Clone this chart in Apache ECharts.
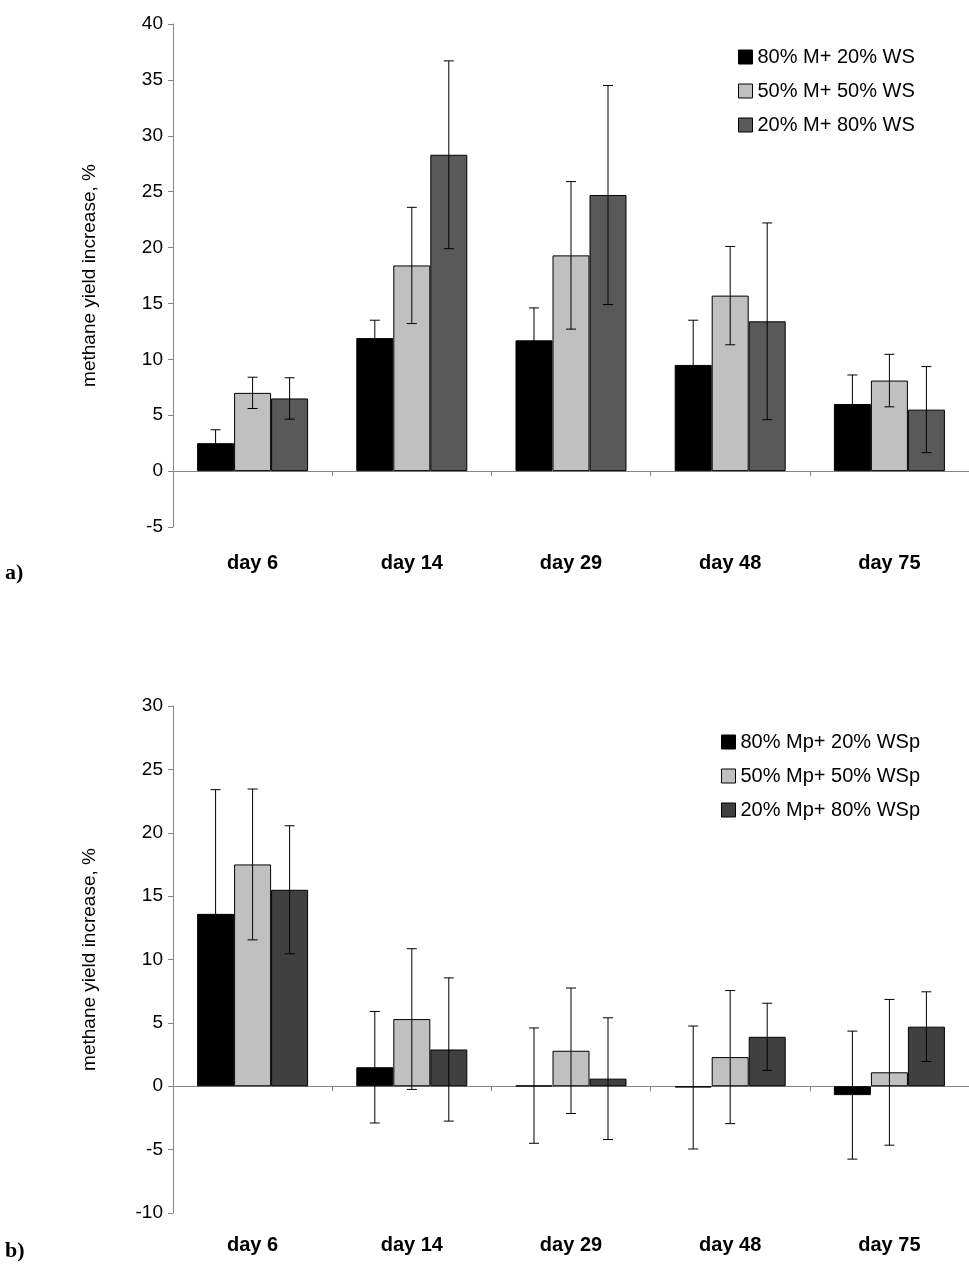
<!DOCTYPE html>
<html>
<head>
<meta charset="UTF-8">
<script src="https://cdn.jsdelivr.net/npm/echarts@6/dist/echarts.min.js"></script>
<style>html,body{margin:0;padding:0;background:#fff}</style>
</head>
<body>
<div id="main" style="width:969px;height:1269px"></div>
<script>
var days = ['day 6', 'day 14', 'day 29', 'day 48', 'day 75'];

// chart a
var namesA = ['80% M+ 20% WS', '50% M+ 50% WS', '20% M+ 80% WS'];
var a80 = [2.5, 11.9, 11.7, 9.5, 6.0];
var a50 = [7.0, 18.4, 19.3, 15.7, 8.1];
var a20 = [6.5, 28.3, 24.7, 13.4, 5.5];
var a80err = [1.2, 1.6, 2.9, 4.0, 2.6];
var a50err = [1.4, 5.2, 6.6, 4.4, 2.35];
var a20err = [1.85, 8.4, 9.8, 8.8, 3.85];

// chart b
var namesB = ['80% Mp+ 20% WSp', '50% Mp+ 50% WSp', '20% Mp+ 80% WSp'];
var b80 = [13.6, 1.5, 0.05, -0.1, -0.7];
var b50 = [17.5, 5.3, 2.8, 2.3, 1.1];
var b20 = [15.5, 2.9, 0.6, 3.9, 4.7];
var b80err = [9.8, 4.4, 4.55, 4.85, 5.05];
var b50err = [5.95, 5.55, 4.95, 5.25, 5.75];
var b20err = [5.05, 5.65, 4.8, 2.65, 2.75];

var font = 'Liberation Sans';
var barW = 37;

function bars(name, data, color, gi) {
    return {
        name: name, type: 'bar', data: data, xAxisIndex: gi * 2, yAxisIndex: gi,
        barWidth: barW, barGap: 0,
        itemStyle: {color: color, borderColor: '#000', borderWidth: 1}
    };
}
function errs(vals, err, off, gi) {
    var d = vals.map(function (v, i) { return [i, v - err[i], v + err[i]]; });
    return {
        type: 'custom', xAxisIndex: gi * 2, yAxisIndex: gi, data: d, z: 10, silent: true,
        renderItem: function (params, api) {
            var lo = api.coord([api.value(0), api.value(1)]);
            var hi = api.coord([api.value(0), api.value(2)]);
            var x = lo[0] + off;
            var s = {stroke: '#000', lineWidth: 1};
            return {type: 'group', children: [
                {type: 'line', shape: {x1: x, y1: lo[1], x2: x, y2: hi[1]}, style: s},
                {type: 'line', shape: {x1: x - 5, y1: lo[1], x2: x + 5, y2: lo[1]}, style: s},
                {type: 'line', shape: {x1: x - 5, y1: hi[1], x2: x + 5, y2: hi[1]}, style: s}
            ]};
        }
    };
}
function xAxes(gi, margin) {
    return [{
        type: 'category', data: days, gridIndex: gi, position: 'bottom',
        axisLine: {show: false, onZero: false}, axisTick: {show: false},
        axisLabel: {fontFamily: font, fontWeight: 'bold', fontSize: 20, color: '#000', margin: margin}
    }, {
        type: 'category', data: days, gridIndex: gi, position: 'bottom',
        axisLine: {show: true, onZero: true, lineStyle: {color: '#868686'}},
        axisTick: {show: true, alignWithLabel: false, length: 5, lineStyle: {color: '#868686'}},
        axisLabel: {show: false}
    }];
}
function yAxis(gi, min, max) {
    return {
        type: 'value', gridIndex: gi, min: min, max: max, interval: 5,
        name: 'methane yield increase, %', nameLocation: 'middle', nameGap: 74,
        nameTextStyle: {fontFamily: font, fontSize: 19, color: '#000'},
        splitLine: {show: false},
        axisLine: {show: true, lineStyle: {color: '#868686'}},
        axisTick: {show: true, length: 5, lineStyle: {color: '#868686'}},
        axisLabel: {fontFamily: font, fontSize: 19, color: '#000', margin: 10}
    };
}
function legend(names, left, top) {
    return {
        data: names, orient: 'vertical', left: left, top: top, itemGap: 14,
        itemWidth: 14, itemHeight: 14, icon: 'rect',
        textStyle: {fontFamily: font, fontSize: 20, color: '#000'},
        itemStyle: {borderColor: '#000', borderWidth: 1}
    };
}

var chart = echarts.init(document.getElementById('main'));
chart.setOption({
    animation: false,
    grid: [
        {left: 173, right: 0, top: 24, bottom: 742},
        {left: 173, right: 0, top: 706, bottom: 56}
    ],
    legend: [legend(namesA, 733, 42), legend(namesB, 716, 727)],
    xAxis: xAxes(0, 26).concat(xAxes(1, 22)),
    yAxis: [yAxis(0, -5, 40), yAxis(1, -10, 30)],
    graphic: [
        {type: 'text', left: 5, top: 562, style: {text: 'a)', font: 'bold 22px "Liberation Serif"', fill: '#000'}},
        {type: 'text', left: 5, top: 1240, style: {text: 'b)', font: 'bold 22px "Liberation Serif"', fill: '#000'}}
    ],
    series: [
        bars(namesA[0], a80, '#000000', 0),
        bars(namesA[1], a50, '#c0c0c0', 0),
        bars(namesA[2], a20, '#595959', 0),
        errs(a80, a80err, -barW, 0),
        errs(a50, a50err, 0, 0),
        errs(a20, a20err, barW, 0),
        bars(namesB[0], b80, '#000000', 1),
        bars(namesB[1], b50, '#c0c0c0', 1),
        bars(namesB[2], b20, '#404040', 1),
        errs(b80, b80err, -barW, 1),
        errs(b50, b50err, 0, 1),
        errs(b20, b20err, barW, 1)
    ]
});
</script>
</body>
</html>
